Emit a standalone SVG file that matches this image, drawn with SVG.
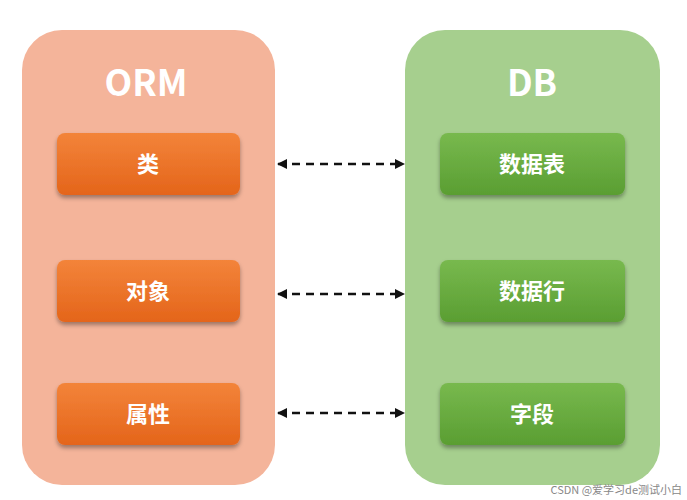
<svg xmlns="http://www.w3.org/2000/svg" width="687" height="500" viewBox="0 0 687 500">
<defs>
<linearGradient id="og" x1="0" y1="0" x2="0" y2="1"><stop offset="0" stop-color="#f3843a"/><stop offset="1" stop-color="#e4651a"/></linearGradient>
<linearGradient id="gg" x1="0" y1="0" x2="0" y2="1"><stop offset="0" stop-color="#78b94e"/><stop offset="1" stop-color="#5a9e32"/></linearGradient>
<filter id="sh" x="-10%" y="-20%" width="120%" height="150%"><feDropShadow dx="0" dy="3" stdDeviation="2" flood-color="#000" flood-opacity="0.35"/></filter>
<marker id="ah" viewBox="0 0 10 10" refX="9" refY="5" markerWidth="4" markerHeight="4" orient="auto-start-reverse"><path d="M0,0 L10,5 L0,10 z" fill="#111"/></marker>
</defs>
<style>
.t{font-family:"Noto Sans CJK SC","Liberation Sans",sans-serif;font-weight:bold;fill:#fff;text-anchor:middle}
.h{font-size:36px}.n{font-size:22px}
.c{stroke:#111;stroke-width:2.5;stroke-dasharray:8,6;marker-start:url(#ah);marker-end:url(#ah)}
</style>
<rect width="687" height="500" fill="#fff"/>
<g id="orm"><rect x="22" y="30" width="253" height="455" rx="40" fill="#f4b49a"/><text class="t h" x="146" y="96">ORM</text></g>
<g id="db"><rect x="405" y="30" width="255" height="455" rx="40" fill="#a6cf8e"/><text class="t h" x="532" y="96">DB</text></g>
<g id="n1"><rect x="57" y="133" width="183" height="62" rx="8" fill="url(#og)" filter="url(#sh)"/><text class="t n" x="148" y="172">类</text></g>
<g id="n2"><rect x="57" y="260" width="183" height="62" rx="8" fill="url(#og)" filter="url(#sh)"/><text class="t n" x="148" y="299">对象</text></g>
<g id="n3"><rect x="57" y="383" width="183" height="62" rx="8" fill="url(#og)" filter="url(#sh)"/><text class="t n" x="148" y="422">属性</text></g>
<g id="n4"><rect x="440" y="133" width="185" height="62" rx="8" fill="url(#gg)" filter="url(#sh)"/><text class="t n" x="532" y="172">数据表</text></g>
<g id="n5"><rect x="440" y="260" width="185" height="62" rx="8" fill="url(#gg)" filter="url(#sh)"/><text class="t n" x="532" y="299">数据行</text></g>
<g id="n6"><rect x="440" y="383" width="185" height="62" rx="8" fill="url(#gg)" filter="url(#sh)"/><text class="t n" x="532" y="422">字段</text></g>
<g id="connectors">
<line class="c" x1="278" y1="164" x2="404" y2="164"/>
<line class="c" x1="278" y1="294" x2="404" y2="294"/>
<line class="c" x1="278" y1="413" x2="404" y2="413"/>
</g>
<text x="682" y="494" font-family="'Noto Sans CJK SC','Liberation Sans',sans-serif" font-size="11" fill="#888" text-anchor="end">CSDN @爱学习de测试小白</text>
</svg>
